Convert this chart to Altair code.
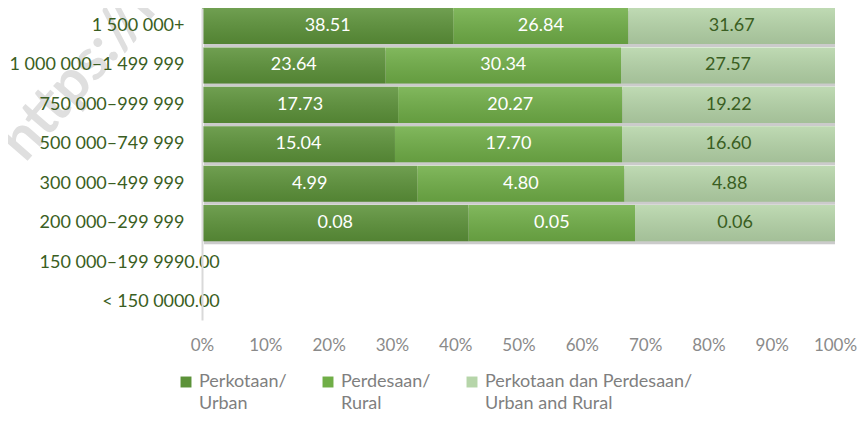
import altair as alt
import pandas as pd

categories = ["1 500 000+", "1 000 000–1 499 999", "750 000–999 999", "500 000–749 999",
              "300 000–499 999", "200 000–299 999", "150 000–199 999", "< 150 000"]
series = ["Perkotaan/|Urban", "Perdesaan/|Rural", "Perkotaan dan Perdesaan/|Urban and Rural"]
urban = [38.51, 23.64, 17.73, 15.04, 4.99, 0.08, 0.00, 0.00]
rural = [26.84, 30.34, 20.27, 17.70, 4.80, 0.05, 0.00, 0.00]
urban_rural = [31.67, 27.57, 19.22, 16.60, 4.88, 0.06, 0.00, 0.00]
x_ticks = [0, 0.1, 0.2, 0.3, 0.4, 0.5, 0.6, 0.7, 0.8, 0.9, 1.0]
watermark = ["https://k"]

colors = ["#5c9239", "#70ae47", "#b6d5a9"]
FONT = "Lato"

rows = []
for i, c in enumerate(categories):
    for j, (s, vals) in enumerate(zip(series, [urban, rural, urban_rural])):
        rows.append({"cat": c, "series": s, "value": vals[i], "order": j})
df = pd.DataFrame(rows)

W, H = 633, 312

y_enc = alt.Y(
    "cat:N", sort=categories,
    scale=alt.Scale(paddingInner=0.086, paddingOuter=0.0),
    axis=alt.Axis(title=None, labelFontSize=18, labelFont=FONT, labelColor="#3a5e22",
                  labelPadding=18, ticks=False, domainColor="#d9d9d9", domainWidth=2,
                  labelLimit=300, zindex=1),
)
x_scale = alt.Scale(domain=[0, 1])

base = alt.Chart(df).transform_joinaggregate(rowsum="sum(value)", groupby=["cat"])

stacked = (
    base.transform_filter("datum.rowsum > 0")
    .transform_stack(stack="value", groupby=["cat"], as_=["x0", "x1"], offset="normalize",
                     sort=[alt.SortField("order", order="ascending")])
    .transform_calculate(mid="(datum.x0 + datum.x1) / 2")
)

row_base = base.transform_filter("datum.rowsum > 0 && datum.order == 0")

shadow = row_base.mark_bar(color="#8c8c8c", opacity=0.45, xOffset=2, yOffset=3).encode(
    x=alt.datum(0, scale=x_scale), x2=alt.datum(1), y=y_enc
)

bars = stacked.mark_bar().encode(
    x=alt.X("x0:Q", scale=x_scale,
            axis=alt.Axis(title=None, values=x_ticks, format=".0%", labelFontSize=17,
                          labelFont=FONT, labelColor="#8a8a8a", domain=False, ticks=False,
                          grid=False, labelPadding=17, labelFlush=False)),
    x2="x1:Q",
    y=y_enc,
    color=alt.Color(
        "series:N", sort=series,
        scale=alt.Scale(domain=series, range=colors),
        legend=alt.Legend(
            title=None, orient="none", legendX=-25, legendY=365, direction="horizontal",
            columns=3, labelExpr="split(datum.label, '|')", labelFontSize=18,
            labelFont=FONT, labelColor="#7f7f7f", symbolType="square", symbolSize=120,
            symbolStrokeWidth=0, columnPadding=32, labelLimit=400, labelOffset=4,
            labelBaseline="middle",
        ),
    ),
)

shade = row_base.mark_bar(
    color=alt.Gradient(
        gradient="linear",
        stops=[alt.GradientStop(color="rgba(255,255,255,0.12)", offset=0),
               alt.GradientStop(color="rgba(0,0,0,0.10)", offset=1)],
        x1=0, x2=0, y1=0, y2=1,
    )
).encode(x=alt.datum(0, scale=x_scale), x2=alt.datum(1), y=y_enc)

labels = stacked.mark_text(fontSize=18, font=FONT).encode(
    x="mid:Q",
    y=y_enc,
    text=alt.Text("value:Q", format=".2f"),
    color=alt.condition("datum.order == 2", alt.value("#3a5e22"), alt.value("white")),
)

zero_labels = base.transform_filter("datum.rowsum == 0 && datum.order == 0").mark_text(
    fontSize=18, font=FONT, color="#3a5e22"
).encode(x=alt.datum(0, scale=x_scale), y=y_enc, text=alt.Text("value:Q", format=".2f"))

wm = alt.Chart(pd.DataFrame({"t": watermark})).mark_text(
    angle=311, fontSize=58, fontWeight="bold", font=FONT, color="#dfdfdf"
).encode(x=alt.value(-118), y=alt.value(62), text="t:N")

chart = (
    alt.layer(wm, shadow, bars, shade, labels, zero_labels)
    .properties(width=W, height=H, padding={"left": 194, "top": 0, "right": 22, "bottom": 94},
                autosize=alt.AutoSizeParams(type="none"))
    .configure(style={"guide-label": {"lineHeight": 22}})
    .configure_view(strokeWidth=0)
)

chart.save("out.html", embed_options={"renderer": "svg", "actions": False})
